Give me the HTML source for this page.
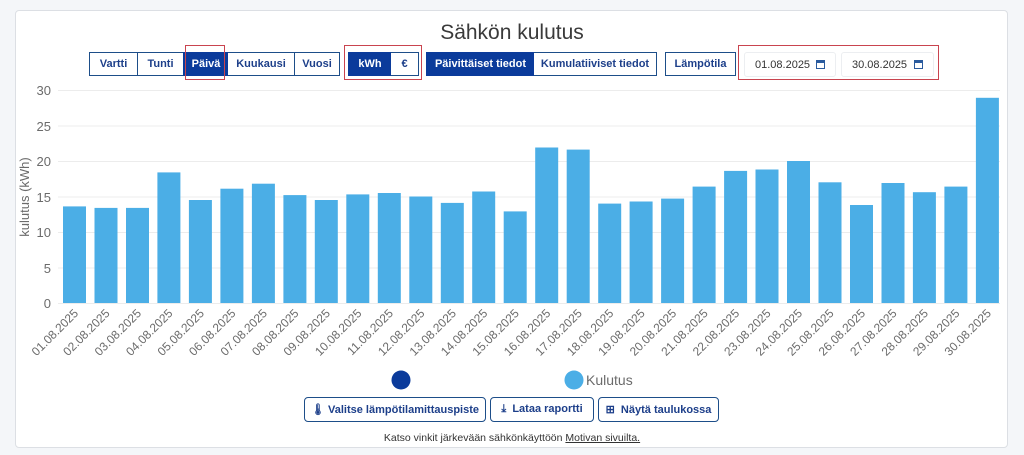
<!DOCTYPE html>
<html><head><meta charset="utf-8"><style>
body{margin:0;width:1024px;height:455px;background:#f4f6f9;font-family:"Liberation Sans",sans-serif;position:relative;overflow:hidden}
.card{position:absolute;left:15px;top:10px;width:991px;height:436px;background:#fff;border:1px solid #dcdfe4;border-radius:4px}
.a{position:absolute}
.btn{position:absolute;top:52px;height:24px;border:1px solid #1d4e89;box-sizing:border-box;font-size:11px;font-weight:bold;color:#1d3f8a;display:flex;align-items:center;justify-content:center;background:#fff}
.on{background:#0b3b9b;color:#fff;border-color:#0b3b9b}
.red{position:absolute;border:1px solid #c9444f;box-sizing:border-box}
.date{position:absolute;top:52px;height:25px;border:1px solid #eceef1;border-radius:3px;box-sizing:border-box;font-size:11px;color:#333;display:flex;align-items:center;padding-left:10px}
.cal{position:absolute;right:10px;top:7px;width:9px;height:9px;border:1.5px solid #2a5b9e;box-sizing:border-box;border-top-width:3px}
.b2{position:absolute;top:397px;height:25px;border:1px solid #1d4e89;border-radius:4px;box-sizing:border-box;font-size:11px;font-weight:bold;color:#1d3f8a;display:flex;align-items:center;justify-content:center}
</style></head><body>
<div class="card"></div>
<div class="a" style="left:0;width:1024px;top:21px;text-align:center;font-size:21px;color:#3a3a3a">Sähkön kulutus</div>
<div class="btn" style="left:89px;width:49px">Vartti</div>
<div class="btn" style="left:137px;width:47px">Tunti</div>
<div class="btn on" style="left:183px;width:46px">Päivä</div>
<div class="btn" style="left:228px;width:67px;border-left:none">Kuukausi</div>
<div class="btn" style="left:294px;width:46px">Vuosi</div>
<div class="red" style="left:185px;top:45px;width:40px;height:35px"></div>
<div class="btn on" style="left:348px;width:44px">kWh</div>
<div class="btn" style="left:391px;width:28px;border-left:none">€</div>
<div class="red" style="left:344px;top:45px;width:78px;height:35px"></div>
<div class="btn on" style="left:426px;width:109px">Päivittäiset tiedot</div>
<div class="btn" style="left:534px;width:123px;border-left:none">Kumulatiiviset tiedot</div>
<div class="btn" style="left:665px;width:71px">Lämpötila</div>
<div class="red" style="left:738px;top:45px;width:201px;height:35px"></div>
<div class="date" style="left:744px;width:92px">01.08.2025<span class="cal"></span></div>
<div class="date" style="left:841px;width:93px">30.08.2025<span class="cal"></span></div>
<svg class="a" style="left:0;top:0" width="1024" height="455" font-family="Liberation Sans, sans-serif">
<g stroke="#ececec" stroke-width="1">
<line x1="58" x2="1000" y1="90.5" y2="90.5"/><line x1="58" x2="1000" y1="126" y2="126"/><line x1="58" x2="1000" y1="161.5" y2="161.5"/><line x1="58" x2="1000" y1="197" y2="197"/><line x1="58" x2="1000" y1="232.5" y2="232.5"/><line x1="58" x2="1000" y1="268" y2="268"/><line x1="58" x2="1000" y1="303.5" y2="303.5"/>
</g>
<g font-size="13" fill="#6b6b6b" text-anchor="end">
<text x="51" y="95">30</text><text x="51" y="131">25</text><text x="51" y="166">20</text><text x="51" y="202">15</text><text x="51" y="237">10</text><text x="51" y="273">5</text><text x="51" y="308">0</text>
</g>
<text transform="translate(29,197) rotate(-90)" font-size="13" fill="#6b6b6b" text-anchor="middle">kulutus (kWh)</text>
<g fill="#4baee6">
<rect x="63" y="206.4" width="23" height="96.6"/><rect x="94.5" y="207.9" width="23" height="95.1"/><rect x="126" y="207.9" width="23" height="95.1"/><rect x="157.4" y="172.4" width="23" height="130.6"/><rect x="188.9" y="200" width="23" height="103"/><rect x="220.4" y="188.7" width="23" height="114.3"/><rect x="251.9" y="183.7" width="23" height="119.3"/><rect x="283.4" y="195.1" width="23" height="107.9"/><rect x="314.8" y="200" width="23" height="103"/><rect x="346.3" y="194.4" width="23" height="108.6"/><rect x="377.8" y="193" width="23" height="110"/><rect x="409.3" y="196.5" width="23" height="106.5"/><rect x="440.8" y="202.9" width="23" height="100.1"/><rect x="472.2" y="191.5" width="23" height="111.5"/><rect x="503.7" y="211.4" width="23" height="91.6"/><rect x="535.2" y="147.5" width="23" height="155.5"/><rect x="566.7" y="149.6" width="23" height="153.4"/><rect x="598.2" y="203.6" width="23" height="99.4"/><rect x="629.6" y="201.5" width="23" height="101.5"/><rect x="661.1" y="198.6" width="23" height="104.4"/><rect x="692.6" y="186.6" width="23" height="116.4"/><rect x="724.1" y="170.9" width="23" height="132.1"/><rect x="755.5" y="169.5" width="23" height="133.5"/><rect x="787" y="161" width="23" height="142"/><rect x="818.5" y="182.3" width="23" height="120.7"/><rect x="850" y="205" width="23" height="98"/><rect x="881.5" y="183" width="23" height="120"/><rect x="912.9" y="192.2" width="23" height="110.8"/><rect x="944.4" y="186.6" width="23" height="116.4"/><rect x="975.9" y="97.8" width="23" height="205.2"/>
</g>
<g font-size="12" fill="#6b6b6b" text-anchor="end">
<text transform="translate(79,314) rotate(-45)">01.08.2025</text><text transform="translate(110.5,314) rotate(-45)">02.08.2025</text><text transform="translate(142,314) rotate(-45)">03.08.2025</text><text transform="translate(173.4,314) rotate(-45)">04.08.2025</text><text transform="translate(204.9,314) rotate(-45)">05.08.2025</text><text transform="translate(236.4,314) rotate(-45)">06.08.2025</text><text transform="translate(267.9,314) rotate(-45)">07.08.2025</text><text transform="translate(299.4,314) rotate(-45)">08.08.2025</text><text transform="translate(330.8,314) rotate(-45)">09.08.2025</text><text transform="translate(362.3,314) rotate(-45)">10.08.2025</text><text transform="translate(393.8,314) rotate(-45)">11.08.2025</text><text transform="translate(425.3,314) rotate(-45)">12.08.2025</text><text transform="translate(456.8,314) rotate(-45)">13.08.2025</text><text transform="translate(488.2,314) rotate(-45)">14.08.2025</text><text transform="translate(519.7,314) rotate(-45)">15.08.2025</text><text transform="translate(551.2,314) rotate(-45)">16.08.2025</text><text transform="translate(582.7,314) rotate(-45)">17.08.2025</text><text transform="translate(614.2,314) rotate(-45)">18.08.2025</text><text transform="translate(645.6,314) rotate(-45)">19.08.2025</text><text transform="translate(677.1,314) rotate(-45)">20.08.2025</text><text transform="translate(708.6,314) rotate(-45)">21.08.2025</text><text transform="translate(740.1,314) rotate(-45)">22.08.2025</text><text transform="translate(771.5,314) rotate(-45)">23.08.2025</text><text transform="translate(803,314) rotate(-45)">24.08.2025</text><text transform="translate(834.5,314) rotate(-45)">25.08.2025</text><text transform="translate(866,314) rotate(-45)">26.08.2025</text><text transform="translate(897.5,314) rotate(-45)">27.08.2025</text><text transform="translate(928.9,314) rotate(-45)">28.08.2025</text><text transform="translate(960.4,314) rotate(-45)">29.08.2025</text><text transform="translate(991.9,314) rotate(-45)">30.08.2025</text>
</g>
<circle cx="401" cy="380" r="9.5" fill="#0b3b9b"/>
<circle cx="574" cy="380" r="9.5" fill="#4baee6"/>
<text x="586" y="385" font-size="14" fill="#6b6b6b">Kulutus</text>
</svg>
<div class="b2" style="left:304px;width:182px">🌡 Valitse lämpötilamittauspiste</div>
<div class="b2" style="left:490px;width:104px">⤓&nbsp; Lataa raportti</div>
<div class="b2" style="left:598px;width:121px">⊞&nbsp; Näytä taulukossa</div>
<div class="a" style="left:0;width:1024px;top:432px;text-align:center;font-size:10.5px;color:#333">Katso vinkit järkevään sähkönkäyttöön <u>Motivan sivuilta.</u></div>
</body></html>
